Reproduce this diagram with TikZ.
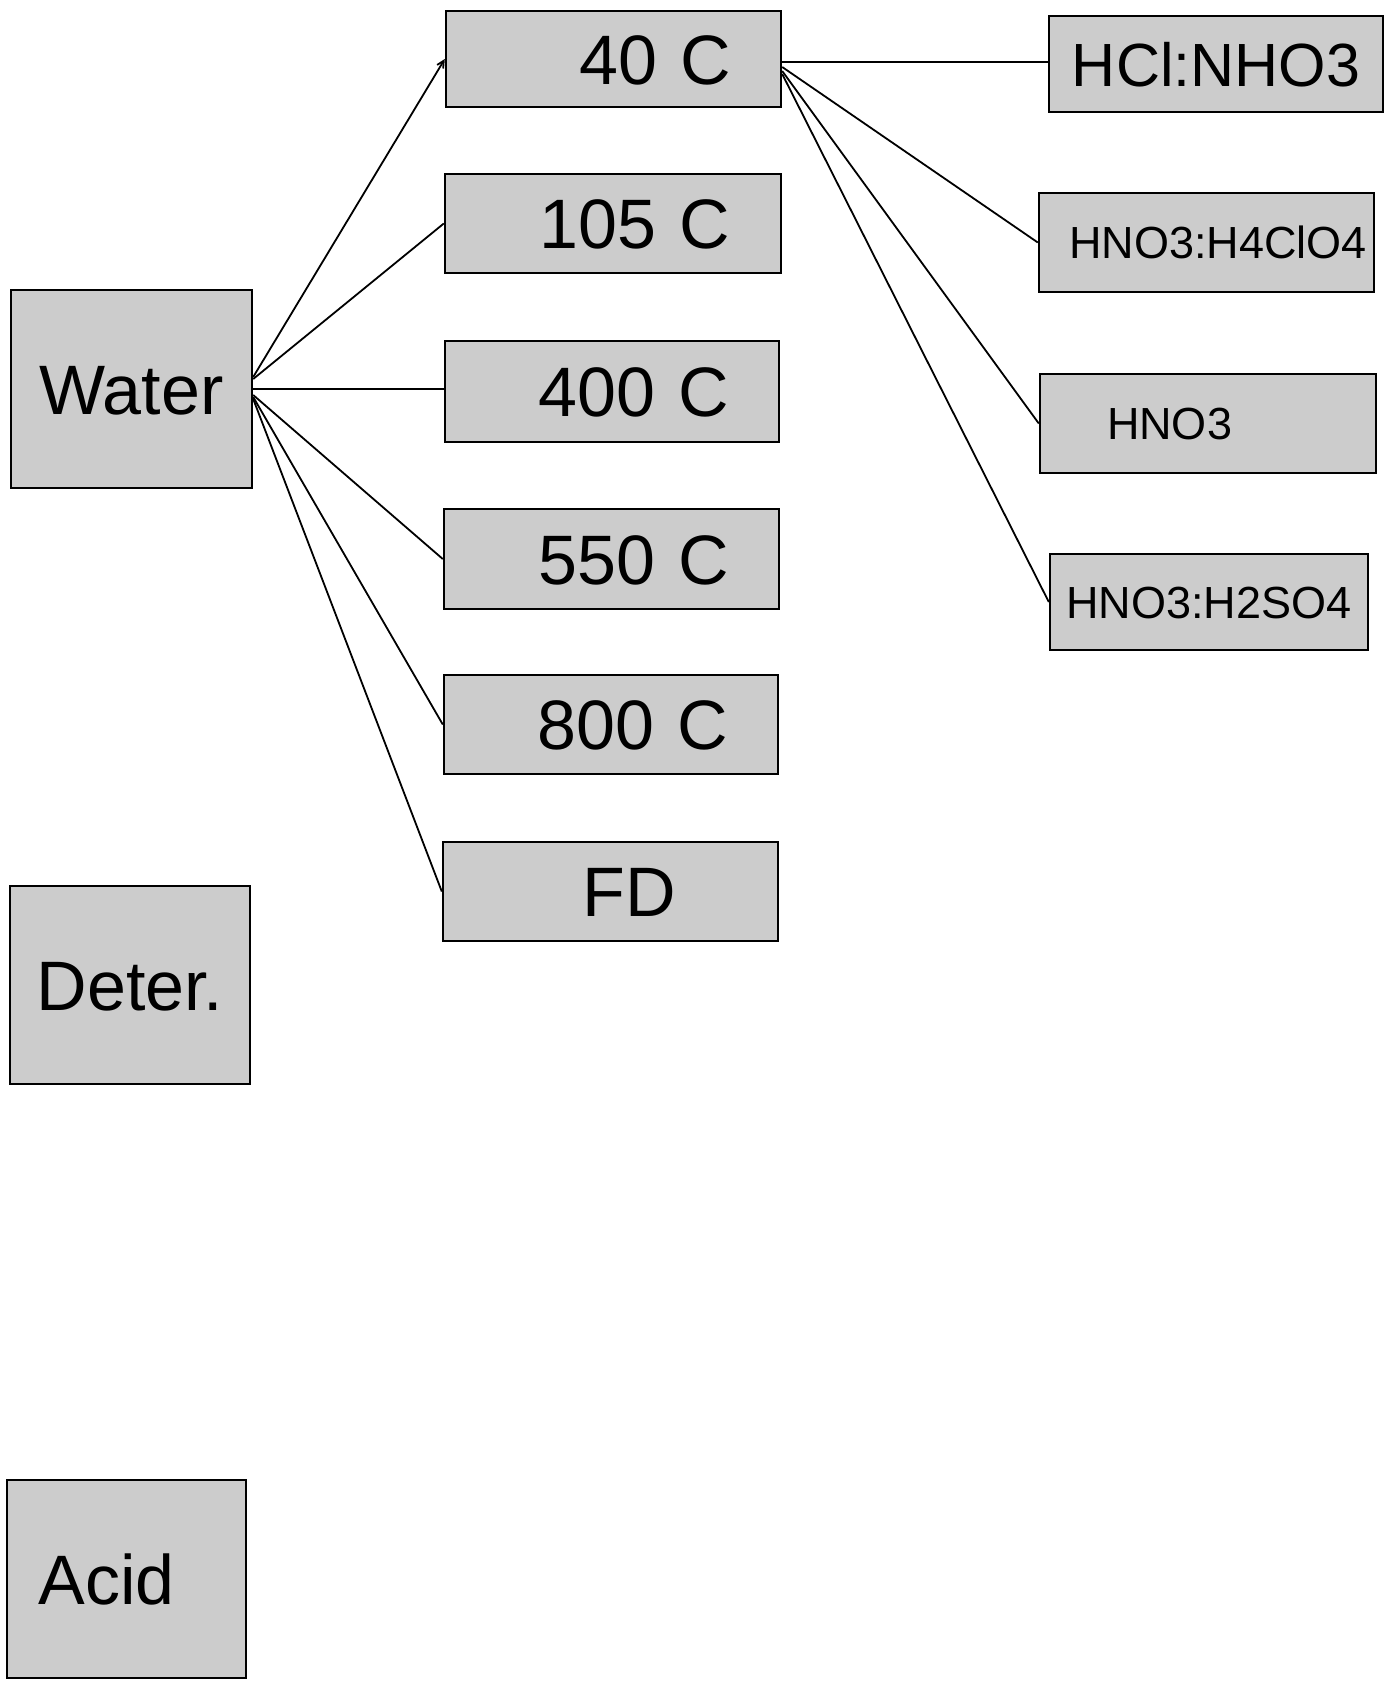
\documentclass[tikz,border=0pt]{standalone}
\usepackage{fontspec}
\setmainfont{Liberation Sans}
\usetikzlibrary{arrows.meta}
\tikzset{
  box/.style={draw=black, line width=2.4pt, fill=black!20, inner sep=0pt, text depth=0pt},
  big/.style={font=\fontsize{70}{80}\selectfont, text height=50pt},
  mid/.style={font=\fontsize{61}{70}\selectfont, text height=44pt},
  small/.style={font=\fontsize{45}{54}\selectfont, text height=32pt},
  link/.style={line width=1.8pt, black}
}
\begin{document}
\begin{tikzpicture}[x=1pt, y=-1pt]
\useasboundingbox (0,0) rectangle (1388,1682);
% left column
\node[box, big, minimum width=241pt, minimum height=198pt] (water) at (131.5,389) {Water};
\node[box, big, minimum width=240pt, minimum height=198pt] (deter) at (130,985) {Deter.};
\node[box, big, minimum width=239pt, minimum height=198pt] (acid) at (126.5,1579) {Acid\hspace*{40pt}};
% temperatures
\node[box, big, minimum width=335pt, minimum height=96pt, text width=235pt, align=right] (t40) at (613.5,59) {40 C};
\node[box, big, minimum width=336pt, minimum height=99pt, text width=235pt, align=right] (t105) at (613,223.5) {105 C};
\node[box, big, minimum width=334pt, minimum height=101pt, text width=235pt, align=right] (t400) at (612,391.5) {400 C};
\node[box, big, minimum width=335pt, minimum height=100pt, text width=235pt, align=right] (t550) at (611.5,559) {550 C};
\node[box, big, minimum width=334pt, minimum height=99pt, text width=235pt, align=right] (t800) at (611,724.5) {800 C};
\node[box, big, minimum width=335pt, minimum height=99pt] (tfd) at (610.5,891.5) {\hspace*{38pt}FD};
% acids
\node[box, mid, minimum width=334pt, minimum height=96pt] (hcl) at (1216,64) {HCl:NHO3};
\node[box, small, minimum width=335pt, minimum height=99pt, text width=321pt, align=right] (h4) at (1206.5,242.5) {HNO3:H4ClO4};
\node[box, small, minimum width=336pt, minimum height=99pt, text width=202pt, align=left] (hno3) at (1208,423.5) {HNO3};
\node[box, small, minimum width=318pt, minimum height=96pt] (h2so4) at (1209,602) {HNO3:H2SO4};
% connectors from Water
\draw[link, -{Straight Barb[length=7pt,width=7pt]}] ([yshift=12pt]water.east) -- (t40.west);
\draw[link] ([yshift=10pt]water.east) -- (t105.west);
\draw[link] (water.east) -- (water.east -| t400.west);
\draw[link] ([yshift=-6pt]water.east) -- (t550.west);
\draw[link] ([yshift=-8pt]water.east) -- (t800.west);
\draw[link] ([yshift=-10pt]water.east) -- (tfd.west);
% connectors from 40 C
\draw[link] ([yshift=-3pt]t40.east) -- ([yshift=-3pt]t40.east -| hcl.west);
\draw[link] ([yshift=-8pt]t40.east) -- (h4.west);
\draw[link] ([yshift=-12pt]t40.east) -- (hno3.west);
\draw[link] ([yshift=-15pt]t40.east) -- (h2so4.west);
\end{tikzpicture}
\end{document}
